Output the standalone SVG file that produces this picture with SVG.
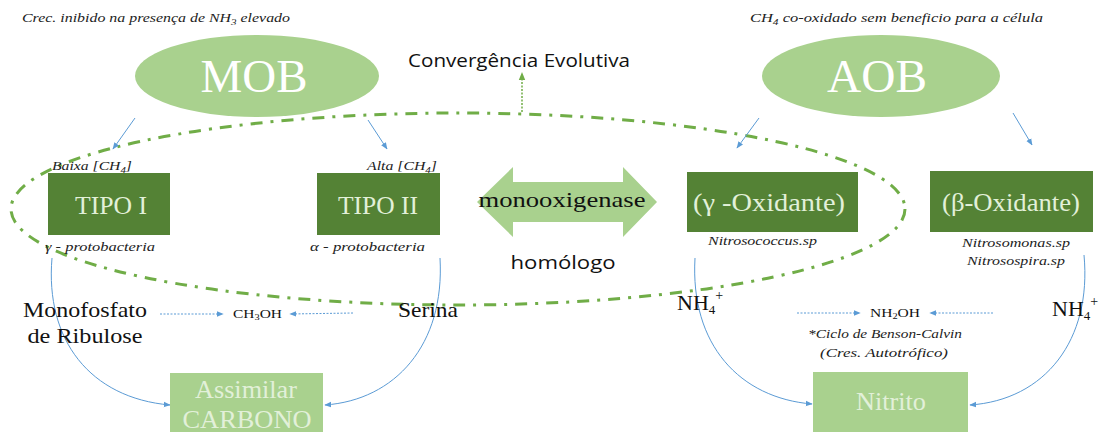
<svg xmlns="http://www.w3.org/2000/svg" width="1115" height="432" viewBox="0 0 1115 432">
<style>
.note{font-style:italic;font-size:13px;fill:#222}
.big{fill:#FFFFFF;font-size:46px;text-anchor:middle}
.box{fill:#548235}
.lbox{fill:#A9D18E}
.btxt{font-size:26px;fill:#E2F0D9;text-anchor:middle}
.ser{fill:#111}
.sans{fill:#111}
.conn{fill:none;stroke:#5B9BD5;stroke-width:1}
.dot{fill:none;stroke:#5B9BD5;stroke-width:1;stroke-dasharray:2 1.5}
</style>
<defs>
<marker id="ah" viewBox="0 0 10 10" refX="9" refY="5" markerWidth="7" markerHeight="7" orient="auto" markerUnits="userSpaceOnUse">
<path d="M0,1 L10,5 L0,9 Z" fill="#5B9BD5"/>
</marker>
<marker id="gh" viewBox="0 0 10 10" refX="5" refY="5" markerWidth="8" markerHeight="8" orient="auto" markerUnits="userSpaceOnUse">
<path d="M0,1 L10,5 L0,9 Z" fill="#70AD47"/>
</marker>
</defs>
<rect width="1115" height="432" fill="#FFFFFF"/>

<g id="notes" font-family="Liberation Serif">
<text class="note" x="22" y="22" textLength="268" lengthAdjust="spacingAndGlyphs">Crec. inibido na presença de NH<tspan font-size="9" dy="3">3</tspan><tspan dy="-3"> elevado</tspan></text>
<text class="note" x="750" y="22" textLength="293" lengthAdjust="spacingAndGlyphs">CH<tspan font-size="9" dy="3">4</tspan><tspan dy="-3"> co-oxidado sem beneficio para a célula</tspan></text>
</g>

<!-- convergence dash-dot ellipse -->
<ellipse cx="458" cy="209" rx="447" ry="96" fill="none" stroke="#70AD47" stroke-width="3" stroke-dasharray="12 8 3 8"/>

<g id="connectors">
<line x1="522" y1="112" x2="522" y2="76" stroke="#70AD47" stroke-width="1.5" stroke-dasharray="2 1.5" marker-end="url(#gh)"/>
<line class="conn" x1="135" y1="118" x2="113" y2="149" marker-end="url(#ah)"/>
<line class="conn" x1="368" y1="120" x2="387" y2="149" marker-end="url(#ah)"/>
<line class="conn" x1="759" y1="118" x2="737" y2="148" marker-end="url(#ah)"/>
<line class="conn" x1="1013" y1="113" x2="1032" y2="145" marker-end="url(#ah)"/>
<path class="conn" d="M52,258 C45,340 90,398 170,405" marker-end="url(#ah)"/>
<path class="conn" d="M440,258 C445,345 395,400 325,405" marker-end="url(#ah)"/>
<path class="conn" d="M695,258 C690,345 740,398 812,404" marker-end="url(#ah)"/>
<path class="conn" d="M1084,255 C1092,340 1045,400 970,405" marker-end="url(#ah)"/>
<line class="dot" x1="160" y1="314" x2="223" y2="314" marker-end="url(#ah)"/>
<line class="dot" x1="353" y1="313" x2="290" y2="314" marker-end="url(#ah)"/>
<line class="dot" x1="797" y1="313" x2="860" y2="313" marker-end="url(#ah)"/>
<line class="dot" x1="993" y1="313" x2="930" y2="313" marker-end="url(#ah)"/>
</g>

<g id="mob">
<ellipse cx="257" cy="76" rx="122" ry="41" fill="#A9D18E"/>
<text class="big" font-family="Liberation Serif" x="254" y="92" textLength="107" lengthAdjust="spacingAndGlyphs">MOB</text>
</g>
<g id="aob">
<ellipse cx="881" cy="76" rx="119" ry="41" fill="#A9D18E"/>
<text class="big" font-family="Liberation Serif" x="877" y="92" textLength="100" lengthAdjust="spacingAndGlyphs">AOB</text>
</g>

<g id="convergencia">
<text class="sans" font-family="Open Sans" x="519" y="67" font-size="17.5" text-anchor="middle" textLength="222" lengthAdjust="spacingAndGlyphs">Convergência Evolutiva</text>
</g>

<g id="tipo1" font-family="Liberation Serif">
<text class="note" x="52" y="170" textLength="80" lengthAdjust="spacingAndGlyphs">Baixa [CH<tspan font-size="9" dy="3">4</tspan><tspan dy="-3">]</tspan></text>
<rect class="box" x="48" y="173" width="122" height="62"/>
<text class="btxt" x="111" y="214" textLength="72" lengthAdjust="spacingAndGlyphs">TIPO I</text>
<text class="note" x="45" y="251" textLength="110" lengthAdjust="spacingAndGlyphs">γ - protobacteria</text>
</g>

<g id="tipo2" font-family="Liberation Serif">
<text class="note" x="367" y="170" textLength="70" lengthAdjust="spacingAndGlyphs">Alta [CH<tspan font-size="9" dy="3">4</tspan><tspan dy="-3">]</tspan></text>
<rect class="box" x="317" y="173" width="123" height="62"/>
<text class="btxt" x="378" y="214" textLength="80" lengthAdjust="spacingAndGlyphs">TIPO II</text>
<text class="note" x="310" y="251" textLength="115" lengthAdjust="spacingAndGlyphs">α - protobacteria</text>
</g>

<g id="monooxigenase">
<path d="M477,202 L513,167 L513,182 L623,182 L623,167 L657,202 L623,237 L623,222 L513,222 L513,237 Z" fill="#A9D18E"/>
<text class="ser" font-family="Liberation Serif" x="562" y="207" font-size="22" text-anchor="middle" textLength="167" lengthAdjust="spacingAndGlyphs">monooxigenase</text>
<text class="sans" font-family="Open Sans" x="563" y="269" font-size="19" text-anchor="middle" textLength="105" lengthAdjust="spacingAndGlyphs">homólogo</text>
</g>

<g id="gamma" font-family="Liberation Serif">
<rect class="box" x="687" y="172" width="171" height="60"/>
<text class="btxt" x="769" y="211" textLength="152" lengthAdjust="spacingAndGlyphs">(γ -Oxidante)</text>
<text class="note" x="708" y="245" textLength="109" lengthAdjust="spacingAndGlyphs">Nitrosococcus.sp</text>
</g>

<g id="beta" font-family="Liberation Serif">
<rect class="box" x="930" y="171" width="163" height="61"/>
<text class="btxt" x="1011" y="211" textLength="138" lengthAdjust="spacingAndGlyphs">(β-Oxidante)</text>
<text class="note" x="1016" y="247" text-anchor="middle" textLength="108" lengthAdjust="spacingAndGlyphs">Nitrosomonas.sp</text>
<text class="note" x="1016" y="265" text-anchor="middle" textLength="98" lengthAdjust="spacingAndGlyphs">Nitrosospira.sp</text>
</g>

<g id="monofosfato" font-family="Liberation Serif">
<text class="ser" x="85" y="317" font-size="22" text-anchor="middle" textLength="124" lengthAdjust="spacingAndGlyphs">Monofosfato</text>
<text class="ser" x="85" y="343" font-size="22" text-anchor="middle" textLength="115" lengthAdjust="spacingAndGlyphs">de Ribulose</text>
</g>
<g id="ch3oh" font-family="Liberation Serif">
<text class="ser" x="233" y="318" font-size="12" textLength="49" lengthAdjust="spacingAndGlyphs">CH<tspan font-size="8" dy="2">3</tspan><tspan dy="-2">OH</tspan></text>
</g>
<g id="serina" font-family="Liberation Serif">
<text class="ser" x="398" y="317" font-size="22" textLength="60" lengthAdjust="spacingAndGlyphs">Serina</text>
</g>

<g id="assimilar" font-family="Liberation Serif">
<rect class="lbox" x="170" y="373" width="153" height="70"/>
<text class="btxt" x="246" y="398" font-size="24" textLength="102" lengthAdjust="spacingAndGlyphs">Assimilar</text>
<text class="btxt" x="247" y="428" font-size="24" textLength="129" lengthAdjust="spacingAndGlyphs">CARBONO</text>
</g>

<g id="nh4a" font-family="Liberation Serif">
<text class="ser" x="677" y="310" font-size="22">NH<tspan font-size="13" dy="4">4</tspan><tspan font-size="14" dy="-14">+</tspan></text>
</g>
<g id="nh2oh" font-family="Liberation Serif">
<text class="ser" x="870" y="317" font-size="12" textLength="50" lengthAdjust="spacingAndGlyphs">NH<tspan font-size="8" dy="2">2</tspan><tspan dy="-2">OH</tspan></text>
</g>
<g id="nh4b" font-family="Liberation Serif">
<text class="ser" x="1052" y="316" font-size="22">NH<tspan font-size="13" dy="4">4</tspan><tspan font-size="14" dy="-14">+</tspan></text>
</g>
<g id="benson" font-family="Liberation Serif">
<text class="note" x="885" y="338" text-anchor="middle" textLength="154" lengthAdjust="spacingAndGlyphs">*Ciclo de Benson-Calvin</text>
<text class="note" x="884" y="357" text-anchor="middle" textLength="128" lengthAdjust="spacingAndGlyphs">(Cres. Autotrófico)</text>
</g>

<g id="nitrito" font-family="Liberation Serif">
<rect class="lbox" x="813" y="372" width="155" height="70"/>
<text class="btxt" x="891" y="410" textLength="70" lengthAdjust="spacingAndGlyphs">Nitrito</text>
</g>
</svg>
